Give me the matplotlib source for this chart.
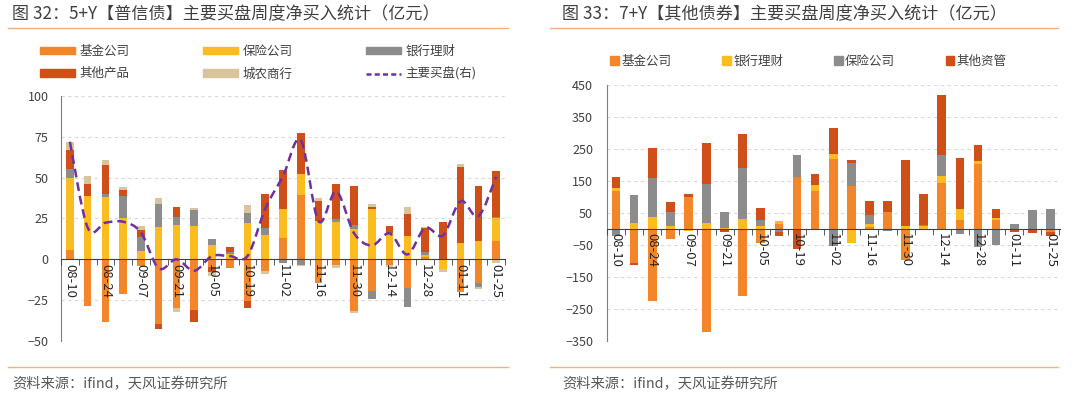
import numpy as np
import matplotlib
matplotlib.use('Agg')
import matplotlib.pyplot as plt
from matplotlib.path import Path
from matplotlib.patches import PathPatch, Patch
from matplotlib.lines import Line2D

plt.rcParams['font.family'] = ['Noto Sans CJK SC', 'DejaVu Sans']

weeks = ['08-10', '08-17', '08-24', '08-31', '09-07', '09-14', '09-21', '09-28',
         '10-05', '10-12', '10-19', '10-26', '11-02', '11-09', '11-16', '11-23',
         '11-30', '12-07', '12-14', '12-21', '12-28', '01-04', '01-11', '01-18', '01-25']

# 图32 5+Y 普信债 (亿元)
l_fund = [6, -28.5, -38.2, -21.3, -4, -39.6, -29.5, -30.9, -4.5, -5.5, -25.4, -7.1, 13.2,
          39.6, -14.2, -3.5, -31.5, -19.3, -3.5, -17.3, 1.4, 0, -20.3, -14.6, 11.2]
l_ins = [44, 39, 38.2, 25, 4.9, 19.7, 21.3, 20.7, 8.9, 3.3, 22.2, 14.8, 17.7,
         12.8, 23.4, 22.8, 18.7, 30.9, 15.9, 14.2, 1.4, -6.1, 9.8, 11, 14.2]
l_bank = [5, 0, 2, 14, 8.9, 14.4, 4.7, 9.3, 3.3, 1.2, 6.3, 4.5, -2.4,
          -3.3, 0, 1.6, 2.6, -5.1, 0, -11.8, 1.7, 0, 0, -2.1, 0.6]
l_other = [12, 7.3, 17.7, 3.7, 3.9, -3.1, 5.9, -7.3, -3.5, 3.0, -4.6, 20.9, 24,
           24.8, 12.6, 21.7, 23.4, 1.2, 4.8, 13.8, 14.8, 22.8, 46.5, 34.1, 28.3]
l_rural = [5, 4.5, 2.7, 1.3, 2.6, 3.3, -2.6, 1.3, -2, 0, 4.8, -2, 0,
           -0.7, 1.4, -1.6, -1.4, 1.9, -1, 4.1, 0.6, -1.6, 2, -1.2, -2]
l_main = [72, 19.5, 22.4, 23, 16.5, -5.5, 0, -7, 2, 2, 2, 31, 51,
          73, 23.4, 41.5, 16, 8.5, 15.9, 3, 19.3, 14.6, 35.6, 26.4, 50.5]

# 图33 7+Y 其他债券 (亿元)
r_fund = [119, -105, -225, -32, 101, -321, 0, -208, -45, 15, 162, 119, 220,
          134, 5, 54, -97, 0, 145, 28, 202, 28, 0, 0, -8]
r_bank = [10, 20, 38.5, 10, -6, 20, 2, 31, 10, 9, 0, 19, 15,
          -45, 12, 0, 10, 8, 21, 33, 10.5, 7, 0, 0, 0]
r_ins = [-22, 86, 120, 44, 0, 121, 52, 161, 18, -10, 70, 0, -52,
         73, 27, -5, 0, 6, 66, -16, -55, -50, 15, 58, 61.5]
r_other = [32, -8.5, 94, 30, 7, 129, -10, 105, 37, -12, -64, 33, 81,
           9, 45, 34.5, 205, 96, 187, 161, 51, 26, -9, -12.5, -14]

C_FUND = '#F4862A'
C_INS = '#FBBC1E'
C_GRAY = '#8C8C8C'
C_OTHER = '#D04E17'
C_RURAL = '#D8C59E'
C_LINE = '#7030A0'
C_TXT = '#404040'
C_RULE = '#F4B183'

W, H = 1080, 399
fig = plt.figure(figsize=(W / 100, H / 100), dpi=100)
x = np.arange(len(weeks))


def fx(px):
    return px / W


def fy(py):
    return 1 - py / H


def stack(ax, series, colors, width):
    pos = np.zeros(len(x))
    neg = np.zeros(len(x))
    for vals, c in zip(series, colors):
        v = np.asarray(vals, float)
        ax.bar(x, v, width, bottom=np.where(v >= 0, pos, neg), color=c, zorder=3)
        pos += np.clip(v, 0, None)
        neg += np.clip(v, None, 0)


def smooth_path(xs, ys):
    p = np.column_stack([xs, ys]).astype(float)
    ext = np.vstack([p[0], p, p[-1]])
    verts = [p[0]]
    codes = [Path.MOVETO]
    for i in range(len(p) - 1):
        p0, p1, p2, p3 = ext[i], ext[i + 1], ext[i + 2], ext[i + 3]
        verts += [p1 + (p2 - p0) / 6, p2 - (p3 - p1) / 6, p2]
        codes += [Path.CURVE4] * 3
    return Path(verts, codes)


def style(ax, xlim, ylim, yticks, ypad):
    ax.set_xlim(*xlim)
    ax.set_ylim(*ylim)
    ax.set_yticks(yticks)
    ax.yaxis.grid(True, linestyle=(0, (3, 3)), color='#D9D9D9', lw=0.8)
    ax.set_axisbelow(True)
    ax.xaxis.set_zorder(4.5)  # date labels sit on top of the bars
    for s in ['top', 'right']:
        ax.spines[s].set_visible(False)
    ax.spines['bottom'].set_position(('data', 0))
    ax.spines['bottom'].set_color('#404040')
    ax.spines['bottom'].set_zorder(4)
    ax.spines['left'].set_color('#7F7F7F')
    ax.set_xticks(x[::2])
    ax.set_xticklabels(weeks[::2], rotation=-90, fontsize=9.5, color='#262626')
    ax.set_xticks(np.arange(-0.5, len(weeks), 1), minor=True)
    ax.tick_params(axis='x', which='major', length=0, pad=3)
    ax.tick_params(axis='x', which='minor', length=4, direction='out', color='#404040')
    ax.tick_params(axis='y', length=0, labelsize=9, labelcolor=C_TXT, pad=ypad)


# ---- left panel
ax1 = fig.add_axes([fx(61), fy(341), fx(505 - 61), (341 - 96) / H])
stack(ax1, [l_fund, l_ins, l_bank, l_other, l_rural],
      [C_FUND, C_INS, C_GRAY, C_OTHER, C_RURAL], 0.43)
ax1.add_patch(PathPatch(smooth_path(x, l_main), facecolor='none', edgecolor=C_LINE,
                        lw=1.8, linestyle=(0, (3.5, 2)), zorder=5))
style(ax1, (-0.45, 24.49), (-50, 100), np.arange(-50, 101, 25), 9)

hs = [Patch(color=C_FUND), Patch(color=C_OTHER), Patch(color=C_INS),
      Patch(color=C_RURAL), Patch(color=C_GRAY),
      Line2D([], [], color=C_LINE, lw=1.8, linestyle=(0, (2, 1.3)))]
labs = ['基金公司', '其他产品', '保险公司', '城农商行', '银行理财', '主要买盘(右)']
fig.legend(hs, labs, ncol=3, loc='upper left', bbox_to_anchor=(fx(40), fy(45)),
           frameon=False, fontsize=9, handlelength=2.8, handleheight=0.55,
           handletextpad=0.35, columnspacing=5.9, labelspacing=0.75,
           borderaxespad=0, borderpad=0, labelcolor=C_TXT)

# ---- right panel
ax2 = fig.add_axes([fx(607), fy(341), fx(1060 - 607), (341 - 85) / H])
stack(ax2, [r_fund, r_bank, r_ins, r_other], [C_FUND, C_INS, C_GRAY, C_OTHER], 0.48)
style(ax2, (-0.5, 24.53), (-350, 450), np.arange(-350, 451, 100), 10)

hs2 = [Patch(color=c) for c in [C_FUND, C_INS, C_GRAY, C_OTHER]]
fig.legend(hs2, ['基金公司', '银行理财', '保险公司', '其他资管'], ncol=4, loc='upper left',
           bbox_to_anchor=(fx(610), fy(55)), frameon=False, fontsize=9,
           handlelength=0.7, handleheight=0.7, handletextpad=0.2, columnspacing=4.05,
           borderaxespad=0, borderpad=0, labelcolor=C_TXT)

# ---- titles, rules, sources
fig.text(fx(12), fy(14), '图 32：5+Y【普信债】主要买盘周度净买入统计（亿元）',
         fontsize=12.3, color=C_TXT, va='center')
fig.text(fx(562), fy(14), '图 33：7+Y【其他债券】主要买盘周度净买入统计（亿元）',
         fontsize=12.3, color=C_TXT, va='center')
for x0, x1 in [(8, 508), (550, 1058)]:
    for yy in [28, 367]:
        fig.add_artist(Line2D([fx(x0), fx(x1)], [fy(yy), fy(yy)], color=C_RULE, lw=1))
fig.text(fx(12), fy(384), '资料来源：ifind，天风证券研究所', fontsize=10.3, color='#595959', va='center')
fig.text(fx(562), fy(384), '资料来源：ifind，天风证券研究所', fontsize=10.3, color='#595959', va='center')

fig.savefig('out.png', dpi=100)
